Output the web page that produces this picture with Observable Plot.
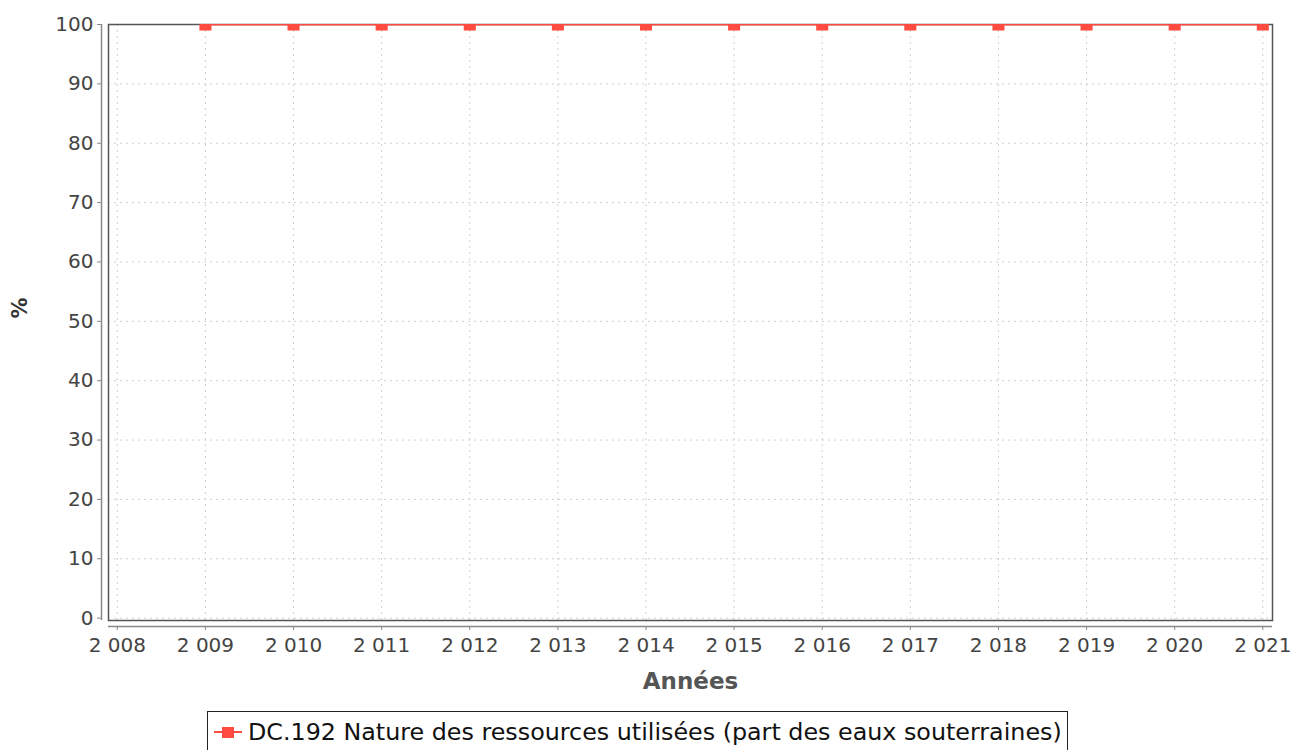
<!DOCTYPE html>
<html>
<head>
<meta charset="utf-8">
<script src="https://cdn.jsdelivr.net/npm/d3@7"></script>
<script src="https://cdn.jsdelivr.net/npm/@observablehq/plot@0.6"></script>
<style>
  html, body { margin: 0; padding: 0; background: #fff; overflow: hidden; }
  #wrap { position: relative; width: 1298px; height: 750px; }
  #legend {
    position: absolute; left: 207px; top: 711px; width: 861px; height: 42px;
    border: 1.5px solid #222; box-sizing: border-box; background: #fff;
    font-family: "DejaVu Sans", sans-serif; font-size: 23.8px; color: #111;
    display: flex; align-items: center; padding-left: 6px; white-space: nowrap;
  }
  #legend svg { margin-right: 6px; }
</style>
</head>
<body>
<div id="wrap"></div>
<script>
const years = [2009, 2010, 2011, 2012, 2013, 2014, 2015, 2016, 2017, 2018, 2019, 2020, 2021];
const values = [100, 100, 100, 100, 100, 100, 100, 100, 100, 100, 100, 100, 100];
const xTicks = [2008, 2009, 2010, 2011, 2012, 2013, 2014, 2015, 2016, 2017, 2018, 2019, 2020, 2021];
const yTicks = [0, 10, 20, 30, 40, 50, 60, 70, 80, 90, 100];
const seriesName = "DC.192 Nature des ressources utilisées (part des eaux souterraines)";
const xLabel = "Années";
const yLabel = "%";

const data = years.map((y, i) => ({year: y, value: values[i]}));
const xDomain = [2007.9, 2021.11];
const yDomain = [-0.4, 100];
const red = "#ff4b40";
const fmtYear = d => String(d).replace(/^(\d)(\d{3})$/, "$1 $2");

const chart = Plot.plot({
  width: 1298,
  height: 705,
  marginLeft: 108,
  marginRight: 26,
  marginTop: 24,
  marginBottom: 85,
  style: {fontFamily: "DejaVu Sans, sans-serif", background: "#fff"},
  x: {domain: xDomain},
  y: {domain: yDomain},
  marks: [
    Plot.gridX(xTicks, {stroke: "#cfcfcf", strokeOpacity: 1, strokeDasharray: "2,4", strokeWidth: 1}),
    Plot.gridY(yTicks, {stroke: "#cfcfcf", strokeOpacity: 1, strokeDasharray: "2,4", strokeWidth: 1}),
    Plot.frame({stroke: "#555", strokeWidth: 1.5}),
    Plot.ruleX([xDomain[0]], {dx: -7, stroke: "#888", strokeWidth: 1.5}),
    Plot.ruleY([yDomain[0]], {dy: 6, stroke: "#888", strokeWidth: 1.5}),
    Plot.axisY(yTicks, {dx: -7, tickSize: 4, tickPadding: 4, stroke: "#888", fill: "#444", fontSize: 20, letterSpacing: 2, label: null}),
    Plot.axisX(xTicks, {dy: 6, tickSize: 4, tickPadding: 7, stroke: "#888", fill: "#444", fontSize: 20, letterSpacing: 1, tickFormat: fmtYear, label: null}),
    Plot.lineY(data, {x: "year", y: "value", stroke: red, strokeWidth: 2, clip: true}),
    Plot.dot(data, {x: "year", y: "value", symbol: "square", r: 6.8, fill: red, stroke: "none", clip: true}),
    Plot.text([xLabel], {frameAnchor: "bottom", dy: 68, fontSize: 23, letterSpacing: 1.5, fontWeight: "bold", fill: "#555"}),
    Plot.text([yLabel], {frameAnchor: "left", dx: -88, dy: -4, rotate: -90, fontSize: 21, fontWeight: "bold", fill: "#333"})
  ]
});
document.getElementById("wrap").appendChild(chart);

const legend = document.createElement("div");
legend.id = "legend";
legend.innerHTML = `<svg width="28" height="14"><line x1="0" y1="7" x2="28" y2="7" stroke="${red}" stroke-width="2"/><rect x="8" y="2" width="12" height="11" fill="${red}"/></svg><span></span>`;
legend.querySelector("span").textContent = seriesName;
document.getElementById("wrap").appendChild(legend);
</script>
</body>
</html>
